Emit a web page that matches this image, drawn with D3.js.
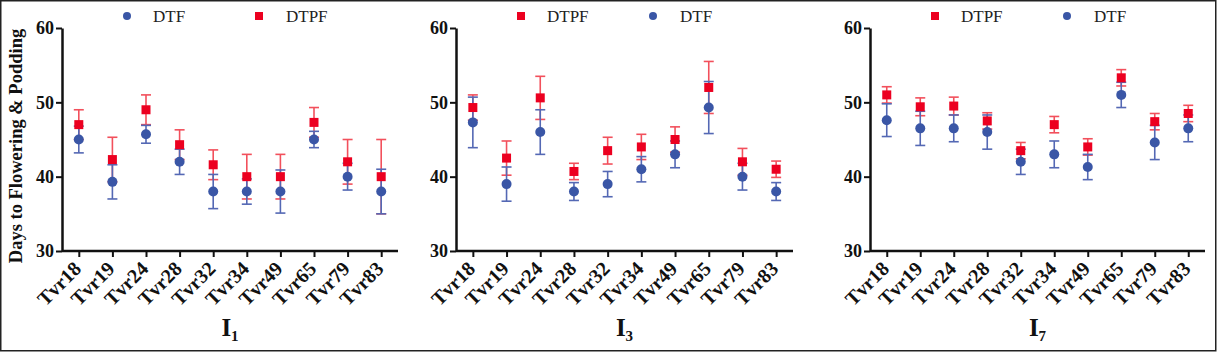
<!DOCTYPE html>
<html>
<head>
<meta charset="utf-8">
<script src="https://cdn.jsdelivr.net/npm/d3@7"></script>
<style>
  body { margin: 0; background: #fff; }
  svg { display: block; }
  text { font-family: "Liberation Serif", "Times New Roman", serif; }
</style>
</head>
<body>
<div id="chart"></div>
<script>
// categories (cultivars)
var CATS = ['Tvr18', 'Tvr19', 'Tvr24', 'Tvr28', 'Tvr32', 'Tvr34', 'Tvr49', 'Tvr65', 'Tvr79', 'Tvr83'];
var YTICKS = [30, 40, 50, 60];

// I1
var i1Dtf = [45, 39.3, 45.7, 42, 38, 38, 38, 45, 40, 38];
var i1DtfErr = [1.8, 2.3, 1.2, 1.7, 2.3, 1.7, 2.9, 1.1, 1.8, 3];
var i1Dtpf = [47, 42.3, 49, 44.3, 41.6, 40, 40, 47.3, 42, 40];
var i1DtpfErr = [2, 3, 2, 2, 2, 3, 3, 2, 3, 5];

// I3
var i3Dtf = [47.3, 39, 46, 38, 39, 41, 43, 49.3, 40, 38];
var i3DtfErr = [3.4, 2.3, 3, 1.2, 1.7, 1.7, 1.8, 3.5, 1.8, 1.2];
var i3Dtpf = [49.3, 42.5, 50.6, 40.7, 43.5, 44, 45, 52, 42, 41];
var i3DtpfErr = [1.7, 2.3, 2.9, 1.1, 1.8, 1.7, 1.7, 3.5, 1.8, 1.1];

// I7
var i7Dtf = [47.6, 46.5, 46.5, 46, 42, 43, 41.3, 51, 44.6, 46.5];
var i7DtfErr = [2.2, 2.3, 1.8, 2.3, 1.7, 1.8, 1.7, 1.7, 2.3, 1.8];
var i7Dtpf = [51, 49.4, 49.5, 47.5, 43.5, 47, 44, 53.3, 47.4, 48.5];
var i7DtpfErr = [1.1, 1.2, 1.2, 1.1, 1.1, 1.1, 1.1, 1.1, 1.1, 1.1];

var W = 1218, H = 352;
var BLUE = '#3a56a6', BLUEERR = '#5468b4';
var RED = '#ec0020', REDERR = '#f2505c';

var svg = d3.select('#chart').append('svg').attr('width', W).attr('height', H);

// outer frame
svg.append('rect').attr('x', 0.75).attr('y', 0.75).attr('width', W - 3).attr('height', H - 2)
  .attr('fill', 'none').attr('stroke', '#222').attr('stroke-width', 1.5);

// y label (shared, left panel only)
svg.append('text')
  .attr('transform', 'translate(22,146) rotate(-90)')
  .attr('text-anchor', 'middle')
  .style('font-size', '18.5px').style('font-weight', 'bold').attr('fill', '#111')
  .text('Days to Flowering & Podding');

var panels = [
  {x0: 62, x1: 398, sub: '1', legend: ['DTF', 'DTPF'],
   dtf: i1Dtf, dtfErr: i1DtfErr, dtpf: i1Dtpf, dtpfErr: i1DtpfErr},
  {x0: 456, x1: 793, sub: '3', legend: ['DTPF', 'DTF'],
   dtf: i3Dtf, dtfErr: i3DtfErr, dtpf: i3Dtpf, dtpfErr: i3DtpfErr},
  {x0: 870, x1: 1205, sub: '7', legend: ['DTPF', 'DTF'],
   dtf: i7Dtf, dtfErr: i7DtfErr, dtpf: i7Dtpf, dtpfErr: i7DtpfErr}
];

var Y = d3.scaleLinear().domain([30, 60]).range([251, 28]);

function drawErr(g, x, vals, errs, col) {
  var eg = g.append('g').attr('stroke', col).attr('stroke-width', 1.6).attr('fill', 'none');
  CATS.forEach(function (c, i) {
    var cx = x(c), lo = Y(vals[i] - errs[i]), hi = Y(vals[i] + errs[i]);
    eg.append('line').attr('x1', cx).attr('x2', cx).attr('y1', lo).attr('y2', hi);
    eg.append('line').attr('x1', cx - 5).attr('x2', cx + 5).attr('y1', lo).attr('y2', lo);
    eg.append('line').attr('x1', cx - 5).attr('x2', cx + 5).attr('y1', hi).attr('y2', hi);
  });
}

function legendMark(g, name, x, y) {
  if (name === 'DTF') {
    g.append('circle').attr('cx', x).attr('cy', y).attr('r', 4).attr('fill', BLUE);
  } else {
    g.append('rect').attr('x', x - 4).attr('y', y - 4).attr('width', 8).attr('height', 8).attr('fill', RED);
  }
}

panels.forEach(function (p) {
  var g = svg.append('g');
  var x = d3.scalePoint().domain(CATS).range([p.x0, p.x1]).padding(0.5);

  // y axis
  var ya = g.append('g').attr('transform', 'translate(' + p.x0 + ',0)')
    .call(d3.axisLeft(Y).tickValues(YTICKS).tickSize(6).tickSizeOuter(0).tickPadding(2));
  ya.select('.domain').attr('stroke', '#111').attr('stroke-width', 2.5);
  ya.selectAll('.tick line').attr('stroke', '#111').attr('stroke-width', 2);
  ya.selectAll('.tick text').attr('fill', '#111')
    .style('font-size', '18px').style('font-weight', 'bold').style('font-family', '"Liberation Serif", serif');

  // x axis
  var xa = g.append('g').attr('transform', 'translate(0,251)')
    .call(d3.axisBottom(x).tickSize(6).tickSizeOuter(0));
  xa.select('.domain').attr('d', 'M' + p.x0 + ',0H' + p.x1).attr('stroke', '#111').attr('stroke-width', 2.5);
  xa.selectAll('.tick line').attr('stroke', '#111').attr('stroke-width', 2);
  xa.selectAll('.tick text').attr('fill', '#111')
    .attr('text-anchor', 'end').attr('dy', null).attr('y', 0)
    .attr('transform', 'translate(3,19) rotate(-45)')
    .style('font-size', '20px').style('font-weight', 'bold').style('font-family', '"Liberation Serif", serif');

  // error bars and markers
  drawErr(g, x, p.dtpf, p.dtpfErr, REDERR);
  drawErr(g, x, p.dtf, p.dtfErr, BLUEERR);
  g.append('g').selectAll('rect').data(p.dtpf).join('rect')
    .attr('x', function (d, i) { return x(CATS[i]) - 4.5; })
    .attr('y', function (d) { return Y(d) - 4.5; })
    .attr('width', 9).attr('height', 9).attr('fill', RED);
  g.append('g').selectAll('circle').data(p.dtf).join('circle')
    .attr('cx', function (d, i) { return x(CATS[i]); })
    .attr('cy', function (d) { return Y(d); })
    .attr('r', 5).attr('fill', BLUE);

  // legend
  var lg = g.append('g');
  [[65, 91], [197, 224]].forEach(function (pos, k) {
    legendMark(lg, p.legend[k], p.x0 + pos[0], 16);
    lg.append('text').attr('x', p.x0 + pos[1]).attr('y', 22)
      .style('font-size', '17px').attr('fill', '#222').text(p.legend[k]);
  });

  // panel title
  var t = g.append('text').attr('x', (p.x0 + p.x1) / 2).attr('y', 336)
    .attr('text-anchor', 'middle').style('font-weight', 'bold').attr('fill', '#111');
  t.append('tspan').style('font-size', '25px').text('I');
  t.append('tspan').attr('dy', 5).style('font-size', '15px').text(p.sub);
});
</script>
</body>
</html>
